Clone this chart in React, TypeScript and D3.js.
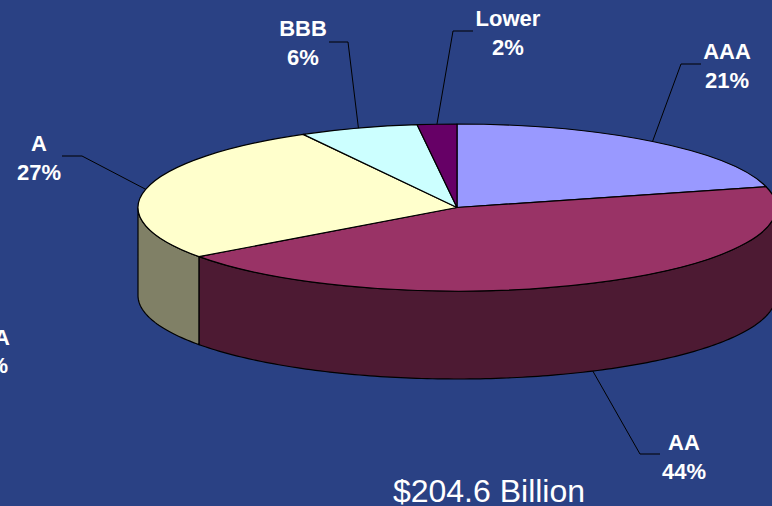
import React from "react";
import * as d3 from "d3";

const categories = ["AAA", "AA", "A", "BBB", "Lower"];
const shares = [21, 44, 27, 6, 2];
const topColors = ["#9999ff", "#993366", "#ffffcc", "#ccffff", "#660066"];
const sideColors = ["#4d4d80", "#4d1a33", "#808066", "#668080", "#330033"];
const totalLabel = "$204.6 Billion";
const clippedLabel = ["AAA", "21%"];

const W = 772, H = 506;
const cx = 457, cy = 207.5, rx = 319, ry = 83.5, depth = 88;
const bg = "#2a4184";

// label placement: centre x, first baseline, elbow x, elbow y, stub end x
const labelLayout = [
  { lx: 727, ly: 59, ex: 681, ey: 64, sx: 701 },
  { lx: 684, ly: 450, ex: 640, ey: 454, sx: 660 },
  { lx: 39, ly: 151, ex: 82, ey: 156, sx: 62 },
  { lx: 303, ly: 36, ex: 348, ey: 42, sx: 329 },
  { lx: 508, ly: 26, ex: 453, ey: 31, sx: 473 },
];

const pie = d3.pie<number>().sort(null).value((d) => d).startAngle(0).endAngle(2 * Math.PI);
const slices = pie(shares);
const arc = d3.arc<d3.PieArcDatum<number>>().innerRadius(0).outerRadius(1);

const px = (a: number) => cx + rx * Math.sin(a);
const py = (a: number) => cy - ry * Math.cos(a);

const sideArea = d3
  .area<number>()
  .x((a) => px(a))
  .y0((a) => py(a))
  .y1((a) => py(a) + depth);

function sidePath(a0: number, a1: number) {
  const lo = Math.max(a0, Math.PI / 2);
  const hi = Math.min(a1, (3 * Math.PI) / 2);
  if (hi <= lo) return null;
  const n = Math.ceil((hi - lo) * 60);
  const angles = d3.range(n + 1).map((i) => lo + ((hi - lo) * i) / n);
  return sideArea(angles);
}

const fontFamily = "'Liberation Sans', Arial, sans-serif";

export default function App() {
  return (
    <svg width={W} height={H} style={{ position: "absolute", left: 0, top: 0, display: "block" }}>
      <rect width={W} height={H} fill={bg} />
      {slices.map((s, i) => {
        const d = sidePath(s.startAngle, s.endAngle);
        return d ? <path key={i} d={d} fill={sideColors[i]} stroke="#000" strokeWidth={1.2} /> : null;
      })}
      <g transform={`translate(${cx},${cy}) scale(${rx},${ry})`}>
        {slices.map((s, i) => (
          <path
            key={i}
            d={arc(s) as string}
            fill={topColors[i]}
            stroke="#000"
            strokeWidth={1.2}
            strokeLinejoin="round"
            vectorEffect="non-scaling-stroke"
          />
        ))}
      </g>
      {slices.map((s, i) => {
        const mid = (s.startAngle + s.endAngle) / 2;
        const l = labelLayout[i];
        const ay = py(mid) + (Math.cos(mid) < 0 ? depth : 0);
        const line = d3.line()([[l.sx, l.ey], [l.ex, l.ey], [px(mid), ay]]) as string;
        return <path key={i} d={line} fill="none" stroke="#000" strokeWidth={1} />;
      })}
      <g fontFamily={fontFamily} fontWeight="bold" fontSize={22} fill="#fff" textAnchor="middle">
        {slices.map((s, i) => (
          <text key={i} x={labelLayout[i].lx} y={labelLayout[i].ly}>
            <tspan x={labelLayout[i].lx}>{categories[i]}</tspan>
            <tspan x={labelLayout[i].lx} y={labelLayout[i].ly + 28.5}>{`${s.data}%`}</tspan>
          </text>
        ))}
        <text x={-14} y={345}>{clippedLabel[0]}</text>
        <text x={-14} y={373}>{clippedLabel[1]}</text>
      </g>
      <text x={489} y={502} fontFamily={fontFamily} fontSize={32} fill="#fff" textAnchor="middle">
        {totalLabel}
      </text>
    </svg>
  );
}
